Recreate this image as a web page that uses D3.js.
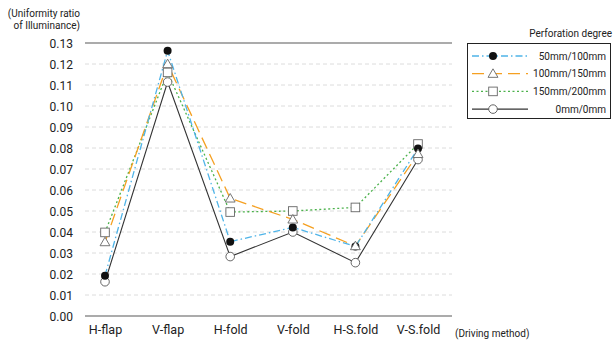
<!DOCTYPE html>
<html><head><meta charset="utf-8">
<script src="https://cdn.jsdelivr.net/npm/d3@7"></script>
<style>
body{margin:0;background:#fff;}
svg{display:block;font-family:Roboto,"Noto Sans",sans-serif;}
</style></head>
<body>
<svg id="c" width="613" height="340"></svg>
<script>
const categories = ["H-flap","V-flap","H-fold","V-fold","H-S.fold","V-S.fold"];
const seriesNames = ["50mm/100mm","100mm/150mm","150mm/200mm","0mm/0mm"];
const s50_100  = [0.0192,0.1263,0.0354,0.0422,0.0331,0.0798];
const s100_150 = [0.0352,0.1200,0.0560,0.0460,0.0333,0.0772];
const s150_200 = [0.0398,0.1160,0.0495,0.0500,0.0517,0.0819];
const s0_0     = [0.0163,0.1114,0.0283,0.0400,0.0254,0.0745];
const yTicks = [0,0.01,0.02,0.03,0.04,0.05,0.06,0.07,0.08,0.09,0.10,0.11,0.12,0.13];

const seriesValues = [s50_100, s100_150, s150_200, s0_0];
const styles = [
  {color:"#4fb4e8", dash:"7,3,1.5,3", marker:"dot"},
  {color:"#f5a021", dash:"12,6", marker:"tri"},
  {color:"#4cb24c", dash:"2,2.5", marker:"sq"},
  {color:"#333333", dash:null, marker:"circ"}
];
const FONT = 'Roboto,"Noto Sans",sans-serif';

const svg = d3.select("#c");
const x0 = 85, x1 = 452;
const x = d3.scalePoint().domain(categories).range([105, 418]);
const y = d3.scaleLinear().domain([0,0.13]).range([316, 43]);

// gridlines
svg.append("g").selectAll("line").data(yTicks.slice(1,-1)).join("line")
  .attr("x1",x0).attr("x2",x1).attr("y1",d=>y(d)).attr("y2",d=>y(d))
  .attr("stroke","#dcdcdc").attr("stroke-dasharray","4,3").attr("stroke-width",1);
svg.append("line").attr("x1",x0).attr("x2",x1).attr("y1",y(0.13)).attr("y2",y(0.13))
  .attr("stroke","#595959").attr("stroke-width",1.2);
svg.append("line").attr("x1",x0).attr("x2",x1).attr("y1",y(0)).attr("y2",y(0))
  .attr("stroke","#595959").attr("stroke-width",1.2);

// y axis labels
const yAxis = d3.axisLeft(y).tickValues(yTicks).tickFormat(d3.format(".2f")).tickSize(0).tickPadding(0);
const gy = svg.append("g").attr("transform","translate(73,0)").call(yAxis);
gy.select(".domain").remove();
gy.selectAll("text").attr("font-size",12).attr("fill","#222").attr("font-family",FONT).attr("dy","0.35em");

// x axis labels
const xAxis = d3.axisBottom(x).tickSize(0).tickPadding(0);
const gx = svg.append("g").attr("transform","translate(0,325)").call(xAxis);
gx.select(".domain").remove();
gx.selectAll("text").attr("font-size",12.5).attr("fill","#222").attr("font-family",FONT).attr("dy","0.71em");

svg.append("text").attr("x",455).attr("y",337).attr("font-size",10).attr("fill","#222").text("(Driving method)");
svg.append("text").attr("x",80).attr("y",17).attr("text-anchor","end").attr("font-size",10).attr("fill","#222").text("(Uniformity ratio");
svg.append("text").attr("x",80).attr("y",29).attr("text-anchor","end").attr("font-size",10).attr("fill","#222").text("of Illuminance)");

function drawMarker(g, type, cx, cy){
  if(type==="dot") g.append("circle").attr("cx",cx).attr("cy",cy).attr("r",4).attr("fill","#111");
  else if(type==="circ") g.append("circle").attr("cx",cx).attr("cy",cy).attr("r",4.3).attr("fill","#fff").attr("stroke","#555").attr("stroke-width",0.9);
  else if(type==="sq") g.append("rect").attr("x",cx-4.3).attr("y",cy-4.3).attr("width",8.6).attr("height",8.6).attr("fill","#fff").attr("stroke","#666").attr("stroke-width",0.9);
  else if(type==="tri") g.append("path").attr("d",d3.symbol().type(d3.symbolTriangle).size(42)()).attr("transform",`translate(${cx},${cy+0.8})`).attr("fill","#fff").attr("stroke","#666").attr("stroke-width",0.9);
}

const line = d3.line().x((d,i)=>x(categories[i])).y(d=>y(d));
[3,2,1,0].forEach(k=>{
  const st = styles[k];
  svg.append("path").datum(seriesValues[k]).attr("d",line).attr("fill","none")
    .attr("stroke",st.color).attr("stroke-width",st.dash?1.3:1.1)
    .attr("stroke-dasharray",st.dash);
});
const mg = svg.append("g");
[3,2,0,1].forEach(k=>{
  seriesValues[k].forEach((v,i)=>drawMarker(mg, styles[k].marker, x(categories[i]), y(v)));
});

// legend
svg.append("text").attr("x",612).attr("y",37).attr("text-anchor","end").attr("font-size",10).attr("fill","#222").text("Perforation degree");
svg.append("rect").attr("x",467.5).attr("y",43.5).attr("width",143).attr("height",75).attr("fill","#fff").attr("stroke","#222").attr("stroke-width",1);
const lg = svg.append("g");
seriesNames.forEach((name,k)=>{
  const yy = 56 + k*17.7;
  const st = styles[k];
  lg.append("line").attr("x1",472).attr("x2",528).attr("y1",yy).attr("y2",yy)
    .attr("stroke",st.color).attr("stroke-width",st.dash?1.3:1.1).attr("stroke-dasharray",st.dash);
  drawMarker(lg, st.marker, 493, yy);
  lg.append("text").attr("x",606).attr("y",yy).attr("dy","0.35em").attr("text-anchor","end")
    .attr("font-size",10).attr("fill","#222").text(name);
});
</script>
</body></html>
